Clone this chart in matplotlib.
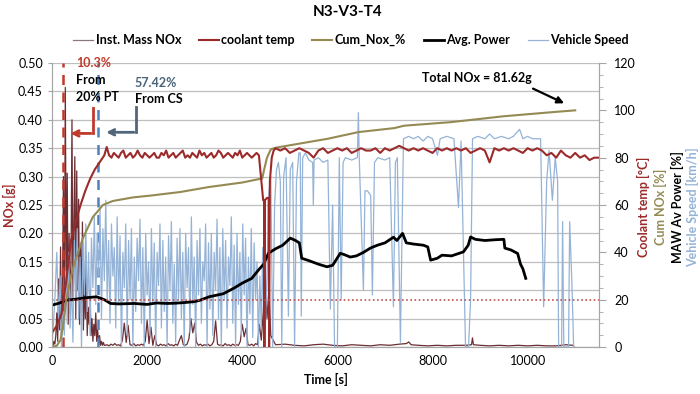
import numpy as np
import matplotlib
matplotlib.use('Agg')
import matplotlib.pyplot as plt
from matplotlib.ticker import MultipleLocator, FormatStrFormatter

plt.rcParams['font.family'] = ['Lato', 'DejaVu Sans']

# ---- data ----
# Inst. Mass NOx [g] (left axis)
nox_early_start, nox_early_step = 0, 20
nox_early = [0.0, 0.002, 0.01, 0.005, 0.02, 0.06, 0.01, 0.12, 0.03, 0.176,
             0.02, 0.08, 0.30, 0.05, 0.457, 0.10, 0.306, 0.04, 0.20, 0.06,
             0.15, 0.40, 0.08, 0.22, 0.335, 0.05, 0.31, 0.10, 0.26, 0.04,
             0.18, 0.06, 0.22, 0.03, 0.12, 0.05, 0.16, 0.02, 0.07, 0.04,
             0.10, 0.02, 0.05, 0.01, 0.04, 0.02, 0.06, 0.01, 0.03, 0.005,
             0.02, 0.003, 0.01, 0.003, 0.008, 0.003]
nox_mid_start, nox_mid_step = 1120, 40
nox_mid = [0.003, 0.004, 0.002, 0.005, 0.003, 0.006, 0.003, 0.004, 0.002, 0.012,
           0.042, 0.008, 0.038, 0.004, 0.003, 0.006, 0.002, 0.004, 0.003, 0.005,
           0.003, 0.010, 0.047, 0.006, 0.035, 0.003, 0.020, 0.004, 0.002, 0.005,
           0.003, 0.004, 0.002, 0.006, 0.003, 0.004, 0.002, 0.005, 0.003, 0.012,
           0.020, 0.004, 0.003, 0.005, 0.015, 0.050, 0.025, 0.042, 0.008, 0.003,
           0.005, 0.002, 0.004, 0.003, 0.005, 0.002, 0.004, 0.010, 0.046, 0.005,
           0.003, 0.004, 0.002, 0.006, 0.003, 0.004, 0.002, 0.005, 0.003, 0.004,
           0.003, 0.010, 0.040, 0.018, 0.033, 0.004, 0.003, 0.005, 0.002, 0.006,
           0.004, 0.040, 0.012, 0.060]
nox_late_t = [4480, 4520, 4560, 4600, 4700, 4900, 5100, 5300, 5500, 5700, 5900,
              6100, 6300, 6500, 6700, 6900, 7100, 7300, 7450, 7500, 7550, 7700,
              7900, 8100, 8300, 8500, 8700, 8820, 8840, 8860, 9000, 9200, 9400,
              9600, 9800, 10000, 10200, 10400, 10600, 10800, 10950]
nox_late = [0.12, 0.05, 0.10, 0.02, 0.004, 0.005, 0.003, 0.002, 0.004, 0.005, 0.003,
            0.002, 0.004, 0.003, 0.002, 0.004, 0.003, 0.005, 0.006, 0.009, 0.004, 0.003,
            0.002, 0.003, 0.002, 0.003, 0.003, 0.004, 0.016, 0.004, 0.003, 0.002, 0.003,
            0.002, 0.003, 0.002, 0.003, 0.002, 0.002, 0.004, 0.003]

# coolant temp [°C] (right axis)
cool_t = [0, 100, 200, 300, 400, 500, 600, 700, 800, 900, 1000, 1100, 1150]
cool = [6, 9, 14, 28, 45, 53, 60, 66, 71, 75, 78, 81, 84.5]
cool_mid_start, cool_mid_step = 1200, 50
cool_mid = [81, 80, 82, 81, 80, 82, 83, 80, 81, 82, 80, 81, 83, 81, 80, 82, 81, 80, 81, 82,
            80, 80, 82, 81, 83, 80, 81, 82, 80, 81, 82, 83, 80, 81, 80, 82, 81, 80, 83, 81,
            82, 80, 81, 82, 80, 81, 83, 82, 80, 81, 82, 81, 80, 82, 81, 83, 80, 81, 82, 81,
            80, 81, 82, 81]
cool_dip_t = [4420, 4440, 4460, 4465, 4475, 4520, 4555, 4565, 4580, 4620, 4660]
cool_dip = [66, 62, 62, 0, 62, 63, 63, 0, 70, 80, 83]
cool_hw_start, cool_hw_step = 4700, 100
cool_hw = [84, 83, 84, 82, 83, 84, 83, 82, 80, 83, 84, 82, 83, 84, 83, 84, 82, 83, 84, 83,
           83, 84, 82, 84, 83, 84, 85, 84, 83, 84, 83, 84, 83, 82, 84, 83, 84, 83, 84, 83,
           84, 82, 83, 84, 83, 78, 84, 83, 84, 83, 84, 83, 82, 84, 83, 84, 83, 81, 82, 80,
           83, 81, 80, 82, 80, 81, 79, 80, 80]

# Cum_Nox_% (right axis)
cum_t = [0, 100, 180, 240, 300, 400, 480, 650, 860, 965, 1070, 1280, 1700, 2080, 2700,
         3300, 4000, 4340, 4420, 4460, 4520, 4600, 4700, 5220, 5800, 6440, 7200, 7400,
         8380, 9500, 10500, 11000]
cum = [0, 0.5, 3, 10.3, 20, 30, 36, 46, 55, 57.4, 60, 61.7, 63.2, 64, 65.5,
       67.6, 69.5, 70.9, 71.2, 75, 80, 83.5, 84.2, 86, 88, 90.8, 92.5, 93.5,
       95, 97.5, 99.2, 100]

# Avg. Power [%] (right axis)
pow_t = [0, 150, 300, 500, 700, 940, 1100, 1230, 1400, 1720, 2000, 2200, 2420, 2590, 2800,
         3000, 3120, 3300, 3600, 3820, 4000, 4200, 4340, 4450, 4550, 4700, 4850, 5010, 5120,
         5200, 5250, 5400, 5600, 5780, 5900, 6060, 6150, 6270, 6400, 6550, 6694, 6840, 7000,
         7180, 7250, 7370, 7450, 7600, 7810, 7900, 7960, 8100, 8200, 8400, 8650, 8750, 8800,
         8900, 9100, 9300, 9500, 9520, 9650, 9790, 9850, 9900, 9960]
power = [17.7, 18.5, 19.8, 20.2, 20.8, 21.2, 20, 18.4, 18.2, 18.4, 18.0, 18.6, 18.4, 18.5, 18.8,
         19.2, 19.8, 21.2, 22.5, 24.8, 27, 29, 32.5, 35, 39.6, 41.5, 43, 46, 45,
         44, 37.5, 36.5, 35, 33.9, 34.5, 39.6, 39, 38, 38.5, 40, 41.8, 43, 44,
         46.4, 45, 48, 44, 43.5, 43, 42.3, 36.7, 37.5, 38.8, 38.5, 40.2, 43, 46.5,
         45.5, 45, 45.3, 45.5, 41.8, 41, 39.5, 35, 33, 29]

# Vehicle Speed [km/h] (right axis)
spd_start_t = [0, 60, 100, 140, 170]
spd_start = [0, 20, 40, 10, 30]
spd_urban_start, spd_urban_step = 200, 30
spd_urban = [0, 15, 5, 32, 10, 40, 8, 28, 2, 45, 20, 50, 12, 38, 0, 44, 22, 52, 15, 40,
             5, 46, 25, 55, 18, 48, 30, 58, 12, 50, 28, 62, 20, 45, 10, 52, 30, 42, 8, 55,
             18, 47, 0, 40, 25, 52, 5, 45, 20, 50, 0, 38, 15, 46, 28, 54, 10, 42, 0, 48,
             22, 36, 5, 50, 18, 44, 0, 40, 26, 52, 8, 45, 15, 38, 0, 47, 24, 53, 10, 35,
             2, 46, 20, 50, 12, 40, 0, 48, 25, 42, 6, 55, 18, 38, 0, 45, 22, 50, 10, 36,
             28, 52, 0, 44, 16, 48, 5, 40, 24, 54, 12, 42, 0, 50, 20, 45, 8, 38, 26, 55,
             10, 43, 0, 48, 18, 40, 5, 52, 22, 46, 0, 38, 14, 50, 4, 44, 20, 36, 0, 30,
             8, 42, 0]
spd_hw_t = [4470, 4520, 4560, 4600, 4640, 4680, 4720, 4760, 4800, 4830, 4870, 4920, 4970,
            5010, 5060, 5100, 5140, 5190, 5220, 5240, 5270, 5326, 5400, 5480, 5494, 5510,
            5600, 5700, 5800, 5852, 5900, 5940, 6000, 6040, 6080, 6120, 6168, 6300, 6420,
            6441, 6460, 6547, 6580, 6631, 6700, 6736, 6780, 6850, 7000, 7100, 7178, 7220,
            7260, 7325, 7389, 7500, 7600, 7700, 7800, 7900, 8000, 8104, 8160, 8300, 8450,
            8546, 8600, 8694, 8757, 8800, 8841, 8950, 9100, 9200, 9300, 9450, 9600, 9700,
            9830, 9900, 10000, 10100, 10272, 10336, 10400, 10450, 10520, 10580, 10630, 10651,
            10714, 10735, 10760, 10860, 10883, 10930, 10967, 10990]
spd_hw = [0, 30, 65, 72, 0, 60, 75, 78, 70, 0, 72, 80, 13,
          75, 78, 0, 70, 82, 82, 13, 80, 82, 79, 78, 60, 79,
          80, 78, 79, 16, 60, 0, 0, 80, 20, 78, 80, 79, 80,
          99, 80, 24, 66, 66, 64, 22, 78, 80, 79, 80, 17, 78,
          80, 2, 88, 89, 88, 89, 87, 89, 88, 81, 88, 89, 88,
          59, 87, 0, 0, 20, 88, 89, 88, 90, 88, 89, 88, 89,
          92, 88, 89, 88, 88, 17, 70, 83, 62, 80, 70, 0,
          0, 53, 0, 0, 53, 27, 0, 0]

limit_value = 20          # dotted red reference line (right axis)
pt_time, cs_time = 240, 965
total_nox_label = 'Total NOx = 81.62g'


def series(start, step, vals):
    return start + step * np.arange(len(vals)), np.array(vals)


t1, v1 = series(nox_early_start, nox_early_step, nox_early)
t2, v2 = series(nox_mid_start, nox_mid_step, nox_mid)
nox_t = np.concatenate([t1, t2, nox_late_t])
nox = np.concatenate([v1, v2, nox_late])

c2t, c2 = series(cool_mid_start, cool_mid_step, cool_mid)
c3t, c3 = series(cool_hw_start, cool_hw_step, cool_hw)
coolant_t = np.concatenate([cool_t, c2t, cool_dip_t, c3t])
coolant = np.concatenate([cool, c2, cool_dip, c3])

sut, su = series(spd_urban_start, spd_urban_step, spd_urban)
speed_t = np.concatenate([spd_start_t, sut, spd_hw_t])
speed = np.concatenate([spd_start, su, spd_hw])

# ---- figure ----
fig = plt.figure(figsize=(7.0, 3.94), dpi=100)
ax = fig.add_axes([52 / 700, 47 / 394, 547 / 700, 284 / 394])
ax2 = ax.twinx()

grid_c = '#BFBFBF'
nox_c = '#6B2E33'
cool_c = '#9C2A2A'
cum_c = '#948A54'
pow_c = '#000000'
spd_c = '#95B3D7'

l_nox, = ax.plot(nox_t, nox, color=nox_c, lw=0.9)
l_spd, = ax2.plot(speed_t, speed, color=spd_c, lw=0.9)
l_pow, = ax2.plot(pow_t, power, color=pow_c, lw=2.0)
l_cum, = ax2.plot(cum_t, cum, color=cum_c, lw=1.5)
l_cool, = ax2.plot(coolant_t, coolant, color=cool_c, lw=1.5)
ax2.axhline(limit_value, color='#C0504D', lw=1.2, ls=(0, (1, 1.5)))

ax.set_xlim(0, 11500)
ax.set_ylim(0, 0.5)
ax2.set_ylim(0, 120)
ax.set_xticks(np.arange(0, 10001, 2000))
ax.yaxis.set_major_locator(MultipleLocator(0.05))
ax.yaxis.set_major_formatter(FormatStrFormatter('%.2f'))
ax2.yaxis.set_major_locator(MultipleLocator(20))
ax2.yaxis.set_minor_locator(MultipleLocator(5))
ax.grid(axis='y', color=grid_c, lw=0.9)
ax.set_axisbelow(True)

for a in (ax, ax2):
    for s in a.spines.values():
        s.set_color('#A6A6A6')
    a.spines['top'].set_visible(False)
ax.tick_params(axis='x', length=0, labelsize=9, pad=6)
ax.tick_params(axis='y', length=3, color='#A6A6A6', labelsize=9)
ax2.tick_params(axis='y', which='major', length=5, color='#A6A6A6', labelsize=9, pad=6)
ax2.tick_params(axis='y', which='minor', length=3, color='#A6A6A6')

ax.set_xlabel('Time [s]', fontsize=9, fontweight='bold', labelpad=4)
fig.text(9 / 700, 1 - 205 / 394, 'NOx [g]', rotation=90, ha='center', va='center',
         fontsize=9, fontweight='bold', color='#9C2A2A')

# stacked right-hand labels
for xp, txt, col in [(643, 'Coolant temp [°C]', '#9C2A2A'),
                     (660, 'Cum NOx [%]', '#948A54'),
                     (677, 'MAW Av Power [%]', '#000000'),
                     (693, 'Vehicle Speed [km/h]', '#95B3D7')]:
    fig.text(xp / 700, 1 - 207 / 394, txt, rotation=90, ha='center', va='center',
             fontsize=9, fontweight='bold', color=col)

fig.text(348 / 700, 1 - 12 / 394, 'N3-V3-T4', ha='center', va='center',
         fontsize=11, fontweight='bold')

leg = fig.legend([l_nox, l_cool, l_cum, l_pow, l_spd],
                 ['Inst. Mass NOx', 'coolant temp', 'Cum_Nox_%', 'Avg. Power', 'Vehicle Speed'],
                 loc='center', bbox_to_anchor=(351 / 700, 1 - 40 / 394), ncol=5, frameon=False,
                 prop={'size': 9, 'weight': 'bold'}, handlelength=1.6, handletextpad=0.2,
                 columnspacing=1.4)
leg.get_lines()[0].set_color('#8C7878')

# vertical markers and call-outs
ax.axvline(pt_time, color='#C0392B', lw=1.8, ls=(0, (4, 3)))
ax.axvline(cs_time, color='#4F81BD', lw=1.8, ls=(0, (4, 3)))

ax.text(510, 0.500, '10.3%', color='#C0392B', fontsize=9, fontweight='bold', va='center')
ax.text(510, 0.470, 'From', color='black', fontsize=9, fontweight='bold', va='center')
ax.text(510, 0.440, '20% PT', color='black', fontsize=9, fontweight='bold', va='center')
ax.text(1740, 0.465, '57.42%', color='#4A6278', fontsize=9, fontweight='bold', va='center')
ax.text(1740, 0.437, 'From CS', color='black', fontsize=9, fontweight='bold', va='center')

ax.plot([870, 870], [0.420, 0.376], color='#C0392B', lw=2)
ax.annotate('', xy=(330, 0.376), xytext=(880, 0.376),
            arrowprops=dict(arrowstyle='->', color='#C0392B', lw=2))
ax.plot([1770, 1770], [0.422, 0.378], color='#51667A', lw=2)
ax.annotate('', xy=(1080, 0.378), xytext=(1780, 0.378),
            arrowprops=dict(arrowstyle='->', color='#51667A', lw=2))

ax.text(8925, 0.474, total_nox_label, fontsize=9, fontweight='bold', ha='center', va='center')
ax.annotate('', xy=(10820, 0.427), xytext=(10060, 0.457),
            arrowprops=dict(arrowstyle='-|>', color='black', lw=1.6, mutation_scale=10))

fig.savefig('out.png', dpi=100)
